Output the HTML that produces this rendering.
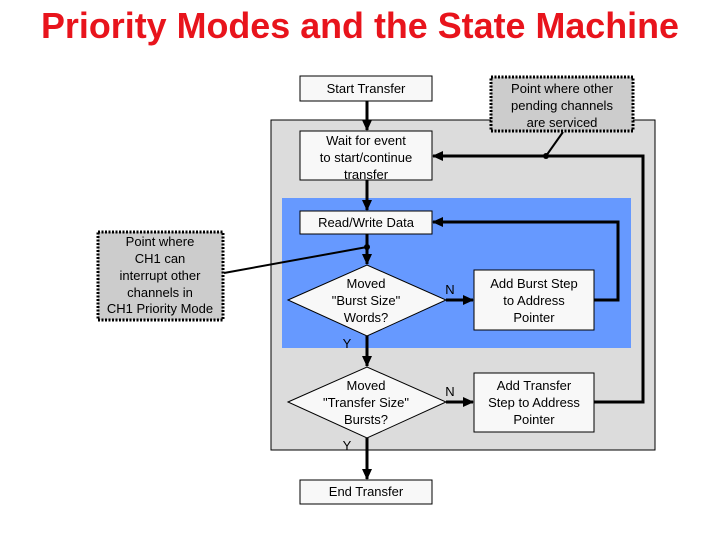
<!DOCTYPE html>
<html><head><style>
body{margin:0;width:720px;height:540px;background:#fff;overflow:hidden;font-family:"Liberation Sans",Arial,sans-serif}
</style></head><body>
<svg width="720" height="540" xmlns="http://www.w3.org/2000/svg" font-family="Liberation Sans, Arial, sans-serif">
<defs><marker id="a" markerWidth="11" markerHeight="11" refX="10" refY="5" orient="auto" markerUnits="userSpaceOnUse"><path d="M0,0 L11,5 L0,10 z" fill="#000"/></marker></defs>
<text x="360" y="38" text-anchor="middle" font-size="36" font-weight="bold" fill="#e8141c" textLength="638" lengthAdjust="spacingAndGlyphs">Priority Modes and the State Machine</text>
<rect x="271" y="120" width="384" height="330" fill="#dcdcdc" stroke="#000" stroke-width="1"/>
<rect x="282" y="198" width="349" height="150" fill="#6699ff"/>
<g stroke="#000" stroke-width="3" fill="none">
<line x1="367" y1="101" x2="367" y2="130" marker-end="url(#a)"/>
<line x1="367" y1="180" x2="367" y2="210" marker-end="url(#a)"/>
<line x1="367" y1="234" x2="367" y2="264" marker-end="url(#a)"/>
<line x1="367" y1="336" x2="367" y2="366" marker-end="url(#a)"/>
<line x1="367" y1="438" x2="367" y2="479" marker-end="url(#a)"/>
<line x1="446" y1="300" x2="473" y2="300" marker-end="url(#a)"/>
<line x1="446" y1="402" x2="473" y2="402" marker-end="url(#a)"/>
<polyline points="594,300 618,300 618,222 433,222" marker-end="url(#a)"/>
<polyline points="594,402 643,402 643,156 433,156" marker-end="url(#a)"/>
</g>
<g stroke="#000" stroke-width="2">
<line x1="367" y1="247" x2="224" y2="273"/>
<line x1="546" y1="156" x2="563" y2="132"/>
</g>
<circle cx="367" cy="247" r="3" fill="#000"/>
<circle cx="546" cy="156" r="3" fill="#000"/>
<g fill="#f8f8f8" stroke="#000" stroke-width="1">
<rect x="300" y="76" width="132" height="25"/>
<rect x="300" y="131" width="132" height="49"/>
<rect x="300" y="211" width="132" height="23"/>
<rect x="474" y="270" width="120" height="60"/>
<rect x="474" y="373" width="120" height="59"/>
<rect x="300" y="480" width="132" height="24"/>
<polygon points="288,300 367,265 446,300 367,336"/>
<polygon points="288,402 367,367 446,402 367,438"/>
</g>
<g fill="#cccccc" stroke="#000" stroke-width="3" stroke-dasharray="2,1.5">
<rect x="491" y="77" width="142" height="54"/>
<rect x="98" y="232" width="125" height="88"/>
</g>
<g font-size="13" fill="#000" text-anchor="middle">
<text x="366" y="93">Start Transfer</text>
<text x="366" y="145">Wait for event</text><text x="366" y="162">to start/continue</text><text x="366" y="179">transfer</text>
<text x="366" y="227">Read/Write Data</text>
<text x="366" y="288">Moved</text><text x="366" y="305">"Burst Size"</text><text x="366" y="322">Words?</text>
<text x="366" y="390">Moved</text><text x="366" y="407">"Transfer Size"</text><text x="366" y="424">Bursts?</text>
<text x="534" y="288">Add Burst Step</text><text x="534" y="305">to Address</text><text x="534" y="322">Pointer</text>
<text x="534" y="390">Add Transfer</text><text x="534" y="407">Step to Address</text><text x="534" y="424">Pointer</text>
<text x="366" y="496">End Transfer</text>
<text x="562" y="93">Point where other</text><text x="562" y="110">pending channels</text><text x="562" y="127">are serviced</text>
<text x="160" y="246">Point where</text><text x="160" y="263">CH1 can</text><text x="160" y="280">interrupt other</text><text x="160" y="297">channels in</text><text x="160" y="313">CH1 Priority Mode</text>
<text x="450" y="294">N</text><text x="450" y="396">N</text>
<text x="347" y="348">Y</text><text x="347" y="450">Y</text>
</g>
</svg>
</body></html>
